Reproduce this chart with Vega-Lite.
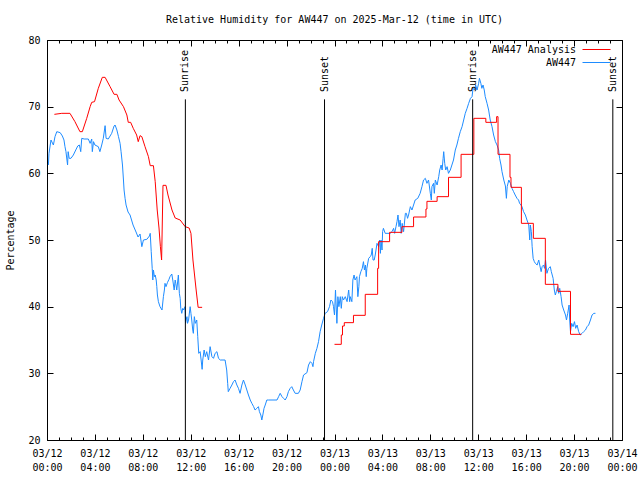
{
 "$schema": "https://vega.github.io/schema/vega-lite/v6.json",
 "width": 575, "height": 400,
 "autosize": {"type": "none"},
 "padding": {"left": 47, "top": 40, "right": 18, "bottom": 40},
 "background": "white",
 "title": {"text": "Relative Humidity for AW447 on 2025-Mar-12 (time in UTC)", "font": "DejaVu Sans Mono", "fontSize": 10, "fontWeight": "normal", "color": "black", "offset": 10, "anchor": "middle"},
 "config": {
  "view": {"stroke": "black", "strokeWidth": 1},
  "axis": {"domain": false, "grid": false, "labelFont": "DejaVu Sans Mono", "labelFontSize": 10, "labelColor": "black", "tickColor": "black", "titleFont": "DejaVu Sans Mono", "titleFontSize": 10, "titleFontWeight": "normal", "titleColor": "black"}
 },
 "datasets": {
  "obs": [
   {"t":"2025-03-12T00:07:00Z","v":61.25},{"t":"2025-03-12T00:10:00Z","v":63},{"t":"2025-03-12T00:20:00Z","v":65},{"t":"2025-03-12T00:32:00Z","v":64.25},{"t":"2025-03-12T00:40:00Z","v":65.5},{"t":"2025-03-12T00:49:00Z","v":66.25},{"t":"2025-03-12T01:06:00Z","v":66.1},{"t":"2025-03-12T01:17:00Z","v":65.6},{"t":"2025-03-12T01:25:00Z","v":65},{"t":"2025-03-12T01:30:00Z","v":64},{"t":"2025-03-12T01:35:00Z","v":63.25},{"t":"2025-03-12T01:40:00Z","v":62},{"t":"2025-03-12T01:43:00Z","v":61.25},{"t":"2025-03-12T01:46:00Z","v":63.25},{"t":"2025-03-12T01:51:00Z","v":62.25},{"t":"2025-03-12T02:00:00Z","v":62.25},{"t":"2025-03-12T02:12:00Z","v":62.75},{"t":"2025-03-12T02:24:00Z","v":63.5},{"t":"2025-03-12T02:34:00Z","v":64.1},{"t":"2025-03-12T02:42:00Z","v":64.25},{"t":"2025-03-12T02:49:00Z","v":63.25},{"t":"2025-03-12T02:54:00Z","v":65.25},{"t":"2025-03-12T03:06:00Z","v":65.15},{"t":"2025-03-12T03:27:00Z","v":65.15},{"t":"2025-03-12T03:36:00Z","v":64.5},{"t":"2025-03-12T03:44:00Z","v":65.15},{"t":"2025-03-12T03:47:00Z","v":63.25},{"t":"2025-03-12T03:53:00Z","v":64.75},{"t":"2025-03-12T04:00:00Z","v":64.25},{"t":"2025-03-12T04:17:00Z","v":64},{"t":"2025-03-12T04:25:00Z","v":63.25},{"t":"2025-03-12T04:34:00Z","v":64.25},{"t":"2025-03-12T04:42:00Z","v":65.25},{"t":"2025-03-12T04:51:00Z","v":67.15},{"t":"2025-03-12T04:56:00Z","v":65.25},{"t":"2025-03-12T05:07:00Z","v":65.15},{"t":"2025-03-12T05:24:00Z","v":66},{"t":"2025-03-12T05:36:00Z","v":67.1},{"t":"2025-03-12T05:41:00Z","v":67.25},{"t":"2025-03-12T05:50:00Z","v":66.5},{"t":"2025-03-12T05:58:00Z","v":65.5},{"t":"2025-03-12T06:06:00Z","v":64.5},{"t":"2025-03-12T06:11:00Z","v":63.25},{"t":"2025-03-12T06:18:00Z","v":61.25},{"t":"2025-03-12T06:23:00Z","v":59},{"t":"2025-03-12T06:26:00Z","v":57.5},{"t":"2025-03-12T06:31:00Z","v":56.25},{"t":"2025-03-12T06:36:00Z","v":55.25},{"t":"2025-03-12T06:46:00Z","v":54.2},{"t":"2025-03-12T06:56:00Z","v":53.75},{"t":"2025-03-12T07:11:00Z","v":52.25},{"t":"2025-03-12T07:26:00Z","v":51.2},{"t":"2025-03-12T07:36:00Z","v":50.45},{"t":"2025-03-12T07:46:00Z","v":50.9},{"t":"2025-03-12T07:55:00Z","v":49},{"t":"2025-03-12T08:03:00Z","v":50},{"t":"2025-03-12T08:20:00Z","v":50.1},{"t":"2025-03-12T08:33:00Z","v":50.6},{"t":"2025-03-12T08:37:00Z","v":51},{"t":"2025-03-12T08:42:00Z","v":48.25},{"t":"2025-03-12T08:47:00Z","v":45.75},{"t":"2025-03-12T08:50:00Z","v":44},{"t":"2025-03-12T08:53:00Z","v":45.5},{"t":"2025-03-12T08:58:00Z","v":44.5},{"t":"2025-03-12T09:02:00Z","v":44.75},{"t":"2025-03-12T09:07:00Z","v":44},{"t":"2025-03-12T09:10:00Z","v":43},{"t":"2025-03-12T09:13:00Z","v":41.75},{"t":"2025-03-12T09:18:00Z","v":40.75},{"t":"2025-03-12T09:26:00Z","v":40},{"t":"2025-03-12T09:36:00Z","v":39.5},{"t":"2025-03-12T09:43:00Z","v":41.5},{"t":"2025-03-12T09:48:00Z","v":42.5},{"t":"2025-03-12T09:51:00Z","v":43.5},{"t":"2025-03-12T09:56:00Z","v":43},{"t":"2025-03-12T10:03:00Z","v":43.6},{"t":"2025-03-12T10:11:00Z","v":44.1},{"t":"2025-03-12T10:16:00Z","v":44.5},{"t":"2025-03-12T10:25:00Z","v":44.9},{"t":"2025-03-12T10:30:00Z","v":44},{"t":"2025-03-12T10:37:00Z","v":42.5},{"t":"2025-03-12T10:42:00Z","v":44},{"t":"2025-03-12T10:45:00Z","v":43.5},{"t":"2025-03-12T10:50:00Z","v":42.5},{"t":"2025-03-12T10:58:00Z","v":44.75},{"t":"2025-03-12T11:03:00Z","v":42},{"t":"2025-03-12T11:07:00Z","v":41.25},{"t":"2025-03-12T11:10:00Z","v":39.75},{"t":"2025-03-12T11:15:00Z","v":39},{"t":"2025-03-12T11:20:00Z","v":39.75},{"t":"2025-03-12T11:25:00Z","v":39.5},{"t":"2025-03-12T11:31:00Z","v":40},{"t":"2025-03-12T11:34:00Z","v":37.5},{"t":"2025-03-12T11:37:00Z","v":38},{"t":"2025-03-12T11:41:00Z","v":38.5},{"t":"2025-03-12T11:44:00Z","v":37.5},{"t":"2025-03-12T11:49:00Z","v":38},{"t":"2025-03-12T11:57:00Z","v":40},{"t":"2025-03-12T12:01:00Z","v":39},{"t":"2025-03-12T12:05:00Z","v":38},{"t":"2025-03-12T12:10:00Z","v":36.5},{"t":"2025-03-12T12:13:00Z","v":36},{"t":"2025-03-12T12:18:00Z","v":38.5},{"t":"2025-03-12T12:23:00Z","v":37.5},{"t":"2025-03-12T12:30:00Z","v":38},{"t":"2025-03-12T12:35:00Z","v":35.5},{"t":"2025-03-12T12:40:00Z","v":33},{"t":"2025-03-12T12:47:00Z","v":33.25},{"t":"2025-03-12T12:52:00Z","v":32},{"t":"2025-03-12T12:57:00Z","v":30.6},{"t":"2025-03-12T13:00:00Z","v":32},{"t":"2025-03-12T13:07:00Z","v":33.5},{"t":"2025-03-12T13:13:00Z","v":32.5},{"t":"2025-03-12T13:20:00Z","v":33.25},{"t":"2025-03-12T13:29:00Z","v":32},{"t":"2025-03-12T13:37:00Z","v":34},{"t":"2025-03-12T13:46:00Z","v":32.5},{"t":"2025-03-12T13:54:00Z","v":32.25},{"t":"2025-03-12T14:02:00Z","v":33},{"t":"2025-03-12T14:11:00Z","v":33.25},{"t":"2025-03-12T14:19:00Z","v":32.25},{"t":"2025-03-12T14:28:00Z","v":32},{"t":"2025-03-12T14:52:00Z","v":32},{"t":"2025-03-12T15:00:00Z","v":30.5},{"t":"2025-03-12T15:05:00Z","v":28.5},{"t":"2025-03-12T15:08:00Z","v":27.25},{"t":"2025-03-12T15:17:00Z","v":27.75},{"t":"2025-03-12T15:26:00Z","v":28.25},{"t":"2025-03-12T15:34:00Z","v":28.75},{"t":"2025-03-12T15:42:00Z","v":29},{"t":"2025-03-12T15:51:00Z","v":28.25},{"t":"2025-03-12T15:59:00Z","v":27.75},{"t":"2025-03-12T16:07:00Z","v":27},{"t":"2025-03-12T16:16:00Z","v":28.25},{"t":"2025-03-12T16:24:00Z","v":29},{"t":"2025-03-12T16:33:00Z","v":28.25},{"t":"2025-03-12T16:41:00Z","v":27.5},{"t":"2025-03-12T16:49:00Z","v":26.75},{"t":"2025-03-12T16:58:00Z","v":26},{"t":"2025-03-12T17:06:00Z","v":25.5},{"t":"2025-03-12T17:15:00Z","v":25},{"t":"2025-03-12T17:22:00Z","v":24.5},{"t":"2025-03-12T17:31:00Z","v":24.75},{"t":"2025-03-12T17:39:00Z","v":25},{"t":"2025-03-12T17:44:00Z","v":24.25},{"t":"2025-03-12T17:51:00Z","v":23.75},{"t":"2025-03-12T17:56:00Z","v":23},{"t":"2025-03-12T18:01:00Z","v":23.75},{"t":"2025-03-12T18:07:00Z","v":24.75},{"t":"2025-03-12T18:13:00Z","v":25.25},{"t":"2025-03-12T18:21:00Z","v":26},{"t":"2025-03-12T18:29:00Z","v":26},{"t":"2025-03-12T19:12:00Z","v":26},{"t":"2025-03-12T19:20:00Z","v":26.5},{"t":"2025-03-12T19:28:00Z","v":27},{"t":"2025-03-12T19:37:00Z","v":26.5},{"t":"2025-03-12T19:45:00Z","v":26.25},{"t":"2025-03-12T19:53:00Z","v":26},{"t":"2025-03-12T20:02:00Z","v":26.5},{"t":"2025-03-12T20:09:00Z","v":27.25},{"t":"2025-03-12T20:18:00Z","v":27.75},{"t":"2025-03-12T20:26:00Z","v":28},{"t":"2025-03-12T20:34:00Z","v":27.5},{"t":"2025-03-12T20:43:00Z","v":27},{"t":"2025-03-12T20:59:00Z","v":27},{"t":"2025-03-12T21:08:00Z","v":27.5},{"t":"2025-03-12T21:17:00Z","v":28.75},{"t":"2025-03-12T21:25:00Z","v":29.75},{"t":"2025-03-12T21:42:00Z","v":30.1},{"t":"2025-03-12T21:50:00Z","v":31.25},{"t":"2025-03-12T21:59:00Z","v":31.75},{"t":"2025-03-12T22:07:00Z","v":31.5},{"t":"2025-03-12T22:12:00Z","v":31},{"t":"2025-03-12T22:15:00Z","v":31.75},{"t":"2025-03-12T22:24:00Z","v":33},{"t":"2025-03-12T22:32:00Z","v":33.75},{"t":"2025-03-12T22:40:00Z","v":34.75},{"t":"2025-03-12T22:48:00Z","v":36.25},{"t":"2025-03-12T22:56:00Z","v":37.25},{"t":"2025-03-12T23:05:00Z","v":38.25},{"t":"2025-03-12T23:13:00Z","v":39},{"t":"2025-03-12T23:25:00Z","v":39.25},{"t":"2025-03-12T23:35:00Z","v":40},{"t":"2025-03-12T23:42:00Z","v":41},{"t":"2025-03-12T23:50:00Z","v":40.75},{"t":"2025-03-12T23:55:00Z","v":40},
   {"t":"2025-03-13T00:00:00Z","v":38.75},{"t":"2025-03-13T00:05:00Z","v":42.5},{"t":"2025-03-13T00:12:00Z","v":37.5},{"t":"2025-03-13T00:17:00Z","v":41.5},{"t":"2025-03-13T00:22:00Z","v":40},{"t":"2025-03-13T00:29:00Z","v":41.5},{"t":"2025-03-13T00:34:00Z","v":39.75},{"t":"2025-03-13T00:39:00Z","v":41.5},{"t":"2025-03-13T00:45:00Z","v":41},{"t":"2025-03-13T00:54:00Z","v":41.5},{"t":"2025-03-13T01:03:00Z","v":40.75},{"t":"2025-03-13T01:11:00Z","v":42.5},{"t":"2025-03-13T01:16:00Z","v":40.75},{"t":"2025-03-13T01:19:00Z","v":41.5},{"t":"2025-03-13T01:27:00Z","v":40.75},{"t":"2025-03-13T01:32:00Z","v":44},{"t":"2025-03-13T01:38:00Z","v":44.75},{"t":"2025-03-13T01:43:00Z","v":44},{"t":"2025-03-13T01:52:00Z","v":44.5},{"t":"2025-03-13T01:57:00Z","v":41.5},{"t":"2025-03-13T02:02:00Z","v":43},{"t":"2025-03-13T02:05:00Z","v":44.5},{"t":"2025-03-13T02:12:00Z","v":45.25},{"t":"2025-03-13T02:19:00Z","v":45.75},{"t":"2025-03-13T02:25:00Z","v":46.75},{"t":"2025-03-13T02:30:00Z","v":45.5},{"t":"2025-03-13T02:35:00Z","v":46.25},{"t":"2025-03-13T02:39:00Z","v":44.5},{"t":"2025-03-13T02:42:00Z","v":45.75},{"t":"2025-03-13T02:51:00Z","v":47.25},{"t":"2025-03-13T02:59:00Z","v":47.5},{"t":"2025-03-13T03:04:00Z","v":47.75},{"t":"2025-03-13T03:09:00Z","v":48.75},{"t":"2025-03-13T03:13:00Z","v":47},{"t":"2025-03-13T03:19:00Z","v":47},{"t":"2025-03-13T03:24:00Z","v":47.75},{"t":"2025-03-13T03:33:00Z","v":49.5},{"t":"2025-03-13T03:41:00Z","v":49},{"t":"2025-03-13T03:46:00Z","v":50},{"t":"2025-03-13T03:50:00Z","v":48},{"t":"2025-03-13T03:53:00Z","v":50},{"t":"2025-03-13T03:58:00Z","v":48.5},{"t":"2025-03-13T04:01:00Z","v":51.25},{"t":"2025-03-13T04:05:00Z","v":51.75},{"t":"2025-03-13T04:14:00Z","v":51},{"t":"2025-03-13T04:39:00Z","v":51},{"t":"2025-03-13T04:48:00Z","v":51.25},{"t":"2025-03-13T04:56:00Z","v":51.75},{"t":"2025-03-13T05:01:00Z","v":51},{"t":"2025-03-13T05:08:00Z","v":52},{"t":"2025-03-13T05:13:00Z","v":52.75},{"t":"2025-03-13T05:18:00Z","v":53.75},{"t":"2025-03-13T05:23:00Z","v":52},{"t":"2025-03-13T05:29:00Z","v":53},{"t":"2025-03-13T05:34:00Z","v":51},{"t":"2025-03-13T05:39:00Z","v":52.5},{"t":"2025-03-13T05:46:00Z","v":51.25},{"t":"2025-03-13T05:55:00Z","v":54},{"t":"2025-03-13T06:00:00Z","v":54},{"t":"2025-03-13T06:06:00Z","v":53.25},{"t":"2025-03-13T06:11:00Z","v":53.75},{"t":"2025-03-13T06:20:00Z","v":55},{"t":"2025-03-13T06:28:00Z","v":54.5},{"t":"2025-03-13T06:36:00Z","v":55.25},{"t":"2025-03-13T06:44:00Z","v":56},{"t":"2025-03-13T06:57:00Z","v":56.25},{"t":"2025-03-13T07:09:00Z","v":57},{"t":"2025-03-13T07:18:00Z","v":58},{"t":"2025-03-13T07:26:00Z","v":59},{"t":"2025-03-13T07:35:00Z","v":59.25},{"t":"2025-03-13T07:43:00Z","v":58.5},{"t":"2025-03-13T07:51:00Z","v":59},{"t":"2025-03-13T08:00:00Z","v":57},{"t":"2025-03-13T08:05:00Z","v":56},{"t":"2025-03-13T08:08:00Z","v":58},{"t":"2025-03-13T08:16:00Z","v":58.5},{"t":"2025-03-13T08:20:00Z","v":57},{"t":"2025-03-13T08:25:00Z","v":59},{"t":"2025-03-13T08:34:00Z","v":58.25},{"t":"2025-03-13T08:42:00Z","v":59.5},{"t":"2025-03-13T08:47:00Z","v":60.5},{"t":"2025-03-13T08:54:00Z","v":61.25},{"t":"2025-03-13T08:59:00Z","v":60.5},{"t":"2025-03-13T09:04:00Z","v":62.25},{"t":"2025-03-13T09:07:00Z","v":63.25},{"t":"2025-03-13T09:12:00Z","v":61.5},{"t":"2025-03-13T09:17:00Z","v":60.5},{"t":"2025-03-13T09:24:00Z","v":61},{"t":"2025-03-13T09:31:00Z","v":60},{"t":"2025-03-13T09:40:00Z","v":60.5},{"t":"2025-03-13T09:48:00Z","v":61.25},{"t":"2025-03-13T09:56:00Z","v":62},{"t":"2025-03-13T10:05:00Z","v":63.5},{"t":"2025-03-13T10:13:00Z","v":64.25},{"t":"2025-03-13T10:21:00Z","v":65.25},{"t":"2025-03-13T10:30:00Z","v":66.25},{"t":"2025-03-13T10:39:00Z","v":67},{"t":"2025-03-13T10:47:00Z","v":68},{"t":"2025-03-13T10:55:00Z","v":69},{"t":"2025-03-13T11:04:00Z","v":69.75},{"t":"2025-03-13T11:12:00Z","v":70.5},{"t":"2025-03-13T11:21:00Z","v":71.25},{"t":"2025-03-13T11:29:00Z","v":71.5},{"t":"2025-03-13T11:34:00Z","v":72.75},{"t":"2025-03-13T11:41:00Z","v":72.5},{"t":"2025-03-13T11:47:00Z","v":73.25},{"t":"2025-03-13T11:54:00Z","v":72.5},{"t":"2025-03-13T12:02:00Z","v":73.5},{"t":"2025-03-13T12:06:00Z","v":74.25},{"t":"2025-03-13T12:13:00Z","v":73.5},{"t":"2025-03-13T12:18:00Z","v":72.75},{"t":"2025-03-13T12:24:00Z","v":73.25},{"t":"2025-03-13T12:30:00Z","v":72.5},{"t":"2025-03-13T12:35:00Z","v":71.5},{"t":"2025-03-13T12:44:00Z","v":70.5},{"t":"2025-03-13T12:52:00Z","v":69.5},{"t":"2025-03-13T13:00:00Z","v":68},{"t":"2025-03-13T13:09:00Z","v":67},{"t":"2025-03-13T13:17:00Z","v":65.75},{"t":"2025-03-13T13:26:00Z","v":64.75},{"t":"2025-03-13T13:34:00Z","v":64.25},{"t":"2025-03-13T13:42:00Z","v":63.5},{"t":"2025-03-13T13:47:00Z","v":62.25},{"t":"2025-03-13T13:54:00Z","v":61.25},{"t":"2025-03-13T13:59:00Z","v":60.25},{"t":"2025-03-13T14:08:00Z","v":59},{"t":"2025-03-13T14:16:00Z","v":58.1},{"t":"2025-03-13T14:21:00Z","v":56.25},{"t":"2025-03-13T14:25:00Z","v":58},{"t":"2025-03-13T14:33:00Z","v":59},{"t":"2025-03-13T14:41:00Z","v":58.5},{"t":"2025-03-13T14:49:00Z","v":57.75},{"t":"2025-03-13T14:57:00Z","v":57.25},{"t":"2025-03-13T15:05:00Z","v":56.75},{"t":"2025-03-13T15:14:00Z","v":56.25},{"t":"2025-03-13T15:22:00Z","v":56},{"t":"2025-03-13T15:27:00Z","v":55.5},{"t":"2025-03-13T15:34:00Z","v":55.25},{"t":"2025-03-13T15:39:00Z","v":55},{"t":"2025-03-13T15:47:00Z","v":54.25},{"t":"2025-03-13T15:56:00Z","v":53.75},{"t":"2025-03-13T16:04:00Z","v":53},{"t":"2025-03-13T16:13:00Z","v":52.25},{"t":"2025-03-13T16:18:00Z","v":50},{"t":"2025-03-13T16:21:00Z","v":52.25},{"t":"2025-03-13T16:26:00Z","v":51.25},{"t":"2025-03-13T16:30:00Z","v":49},{"t":"2025-03-13T16:35:00Z","v":47.25},{"t":"2025-03-13T16:41:00Z","v":46.75},{"t":"2025-03-13T16:46:00Z","v":46.5},{"t":"2025-03-13T16:55:00Z","v":46.25},{"t":"2025-03-13T17:03:00Z","v":47},{"t":"2025-03-13T17:08:00Z","v":46.25},{"t":"2025-03-13T17:15:00Z","v":45.25},{"t":"2025-03-13T17:20:00Z","v":46},{"t":"2025-03-13T17:27:00Z","v":46.25},{"t":"2025-03-13T17:32:00Z","v":45.75},{"t":"2025-03-13T17:37:00Z","v":47},{"t":"2025-03-13T17:44:00Z","v":45},{"t":"2025-03-13T17:52:00Z","v":45.75},{"t":"2025-03-13T18:01:00Z","v":46},{"t":"2025-03-13T18:06:00Z","v":45.25},{"t":"2025-03-13T18:15:00Z","v":44.25},{"t":"2025-03-13T18:21:00Z","v":42.5},{"t":"2025-03-13T18:26:00Z","v":41.75},{"t":"2025-03-13T18:31:00Z","v":42.25},{"t":"2025-03-13T18:38:00Z","v":43},{"t":"2025-03-13T18:43:00Z","v":42},{"t":"2025-03-13T18:48:00Z","v":42.75},{"t":"2025-03-13T18:55:00Z","v":41.5},{"t":"2025-03-13T19:00:00Z","v":40.25},{"t":"2025-03-13T19:08:00Z","v":39.5},{"t":"2025-03-13T19:17:00Z","v":38.75},{"t":"2025-03-13T19:22:00Z","v":38},{"t":"2025-03-13T19:28:00Z","v":39},{"t":"2025-03-13T19:35:00Z","v":40.25},{"t":"2025-03-13T19:38:00Z","v":38},{"t":"2025-03-13T19:42:00Z","v":36.25},{"t":"2025-03-13T19:48:00Z","v":37.5},{"t":"2025-03-13T19:55:00Z","v":37},{"t":"2025-03-13T20:02:00Z","v":37.75},{"t":"2025-03-13T20:08:00Z","v":36.75},{"t":"2025-03-13T20:15:00Z","v":37.25},{"t":"2025-03-13T20:23:00Z","v":36.25},{"t":"2025-03-13T20:31:00Z","v":35.75},{"t":"2025-03-13T20:40:00Z","v":36},{"t":"2025-03-13T20:48:00Z","v":36.25},{"t":"2025-03-13T20:57:00Z","v":36.5},{"t":"2025-03-13T21:05:00Z","v":37},{"t":"2025-03-13T21:13:00Z","v":37.25},{"t":"2025-03-13T21:22:00Z","v":38},{"t":"2025-03-13T21:30:00Z","v":38.75},{"t":"2025-03-13T21:39:00Z","v":39},{"t":"2025-03-13T21:47:00Z","v":39}
  ],
  "ana1": [
   {"t":"2025-03-12T00:37:00Z","v":68.85},{"t":"2025-03-12T01:14:00Z","v":69},{"t":"2025-03-12T01:55:00Z","v":69},{"t":"2025-03-12T02:20:00Z","v":67.75},{"t":"2025-03-12T02:45:00Z","v":66.25},{"t":"2025-03-12T02:57:00Z","v":66.25},{"t":"2025-03-12T03:19:00Z","v":68.25},{"t":"2025-03-12T03:36:00Z","v":70},{"t":"2025-03-12T03:44:00Z","v":70.65},{"t":"2025-03-12T03:58:00Z","v":70.75},{"t":"2025-03-12T04:17:00Z","v":72.75},{"t":"2025-03-12T04:37:00Z","v":74.4},{"t":"2025-03-12T04:51:00Z","v":74.4},{"t":"2025-03-12T05:16:00Z","v":73},{"t":"2025-03-12T05:36:00Z","v":71.85},{"t":"2025-03-12T05:50:00Z","v":71.85},{"t":"2025-03-12T06:01:00Z","v":71},{"t":"2025-03-12T06:23:00Z","v":70},{"t":"2025-03-12T06:40:00Z","v":68.75},{"t":"2025-03-12T06:47:00Z","v":67.65},{"t":"2025-03-12T06:59:00Z","v":67.65},{"t":"2025-03-12T07:12:00Z","v":66.75},{"t":"2025-03-12T07:29:00Z","v":65.75},{"t":"2025-03-12T07:37:00Z","v":64.75},{"t":"2025-03-12T07:46:00Z","v":65.65},{"t":"2025-03-12T07:55:00Z","v":65.5},{"t":"2025-03-12T08:11:00Z","v":64},{"t":"2025-03-12T08:28:00Z","v":62.5},{"t":"2025-03-12T08:37:00Z","v":61.15},{"t":"2025-03-12T08:53:00Z","v":61.15},{"t":"2025-03-12T09:02:00Z","v":58.75},{"t":"2025-03-12T09:12:00Z","v":54.5},{"t":"2025-03-12T09:21:00Z","v":51.8},{"t":"2025-03-12T09:28:00Z","v":49},{"t":"2025-03-12T09:34:00Z","v":47},{"t":"2025-03-12T09:41:00Z","v":58.2},{"t":"2025-03-12T09:56:00Z","v":58.2},{"t":"2025-03-12T10:06:00Z","v":56.75},{"t":"2025-03-12T10:26:00Z","v":54.5},{"t":"2025-03-12T10:42:00Z","v":53.3},{"t":"2025-03-12T11:07:00Z","v":53},{"t":"2025-03-12T11:32:00Z","v":52},{"t":"2025-03-12T11:52:00Z","v":51.8},{"t":"2025-03-12T12:01:00Z","v":51},{"t":"2025-03-12T12:11:00Z","v":47},{"t":"2025-03-12T12:27:00Z","v":42.5},{"t":"2025-03-12T12:37:00Z","v":39.9},{"t":"2025-03-12T12:57:00Z","v":39.9}
  ],
  "ana2": [
   {"t":"2025-03-13T00:00:00Z","v":34.35},{"t":"2025-03-13T00:34:00Z","v":35.75},{"t":"2025-03-13T00:40:00Z","v":37.1},{"t":"2025-03-13T00:49:00Z","v":37.6},{"t":"2025-03-13T01:35:00Z","v":38.7},{"t":"2025-03-13T02:34:00Z","v":41.85},{"t":"2025-03-13T03:36:00Z","v":45.75},{"t":"2025-03-13T03:41:00Z","v":49.75},{"t":"2025-03-13T04:36:00Z","v":51.15},{"t":"2025-03-13T05:38:00Z","v":52},{"t":"2025-03-13T06:36:00Z","v":53.45},{"t":"2025-03-13T07:38:00Z","v":54.65},{"t":"2025-03-13T07:43:00Z","v":55.8},{"t":"2025-03-13T08:34:00Z","v":56.5},{"t":"2025-03-13T09:31:00Z","v":59.4},{"t":"2025-03-13T10:34:00Z","v":62.85},{"t":"2025-03-13T11:38:00Z","v":68.25},{"t":"2025-03-13T12:38:00Z","v":67.65},{"t":"2025-03-13T13:32:00Z","v":68.5},{"t":"2025-03-13T13:39:00Z","v":62.85},{"t":"2025-03-13T14:39:00Z","v":59.4},{"t":"2025-03-13T14:44:00Z","v":57.9},{"t":"2025-03-13T15:36:00Z","v":52.5},{"t":"2025-03-13T16:36:00Z","v":50.25},{"t":"2025-03-13T17:36:00Z","v":43.35},{"t":"2025-03-13T18:39:00Z","v":42.3},{"t":"2025-03-13T19:42:00Z","v":35.85},{"t":"2025-03-13T20:36:00Z","v":35.85}
  ],
  "sun": [
   {"t":"2025-03-12T11:33:00Z","label":"Sunrise"},{"t":"2025-03-12T23:10:00Z","label":"Sunset"},{"t":"2025-03-13T11:32:00Z","label":"Sunrise"},{"t":"2025-03-13T23:14:00Z","label":"Sunset"}
  ]
 },
 "layer": [
  {
   "data": {"name": "obs"},
   "mark": {"type": "line", "strokeWidth": 1, "clip": true},
   "encoding": {
    "x": {"field": "t", "type": "temporal", "scale": {"type": "utc", "nice": false, "domain": [{"year": 2025, "month": 3, "date": 12, "utc": true}, {"year": 2025, "month": 3, "date": 14, "utc": true}]},
          "axis": {"orient": "bottom", "title": null, "tickSize": -6, "labelPadding": 14, "labelLineHeight": 14,
                   "values": [{"year":2025,"month":3,"date":12,"hours":0,"utc":true},{"year":2025,"month":3,"date":12,"hours":4,"utc":true},{"year":2025,"month":3,"date":12,"hours":8,"utc":true},{"year":2025,"month":3,"date":12,"hours":12,"utc":true},{"year":2025,"month":3,"date":12,"hours":16,"utc":true},{"year":2025,"month":3,"date":12,"hours":20,"utc":true},{"year":2025,"month":3,"date":13,"hours":0,"utc":true},{"year":2025,"month":3,"date":13,"hours":4,"utc":true},{"year":2025,"month":3,"date":13,"hours":8,"utc":true},{"year":2025,"month":3,"date":13,"hours":12,"utc":true},{"year":2025,"month":3,"date":13,"hours":16,"utc":true},{"year":2025,"month":3,"date":13,"hours":20,"utc":true},{"year":2025,"month":3,"date":14,"hours":0,"utc":true}],
                   "labelExpr": "[utcFormat(datum.value, '%m/%d'), utcFormat(datum.value, '%H:%M')]", "labelFlush": false, "labelOverlap": false}},
    "y": {"field": "v", "type": "quantitative", "scale": {"domain": [20, 80], "nice": false, "zero": false},
          "axis": {"orient": "left", "values": [20, 30, 40, 50, 60, 70, 80], "tickSize": -6, "labelPadding": 13, "title": "Percentage", "titlePadding": 12}},
    "color": {"datum": "AW447", "scale": {"domain": ["AW447 Analysis", "AW447"], "range": ["#ff0000", "#1e8cff"]},
              "legend": {"orient": "none", "legendX": 542, "legendY": 2, "title": null, "symbolType": "M-2,0H2", "symbolSize": 196, "symbolStrokeWidth": 1, "symbolFillColor": "transparent", "labelAlign": "right", "labelOffset": -28, "labelFont": "DejaVu Sans Mono", "labelFontSize": 10, "labelColor": "black", "padding": 0, "rowPadding": -1}}
   }
  },
  {
   "data": {"name": "ana1"},
   "mark": {"type": "line", "strokeWidth": 1, "clip": true},
   "encoding": {
    "x": {"field": "t", "type": "temporal", "axis": {"orient": "top", "title": null, "labels": false, "tickSize": -6,
          "values": [{"year":2025,"month":3,"date":12,"hours":0,"utc":true},{"year":2025,"month":3,"date":12,"hours":4,"utc":true},{"year":2025,"month":3,"date":12,"hours":8,"utc":true},{"year":2025,"month":3,"date":12,"hours":12,"utc":true},{"year":2025,"month":3,"date":12,"hours":16,"utc":true},{"year":2025,"month":3,"date":12,"hours":20,"utc":true},{"year":2025,"month":3,"date":13,"hours":0,"utc":true},{"year":2025,"month":3,"date":13,"hours":4,"utc":true},{"year":2025,"month":3,"date":13,"hours":8,"utc":true},{"year":2025,"month":3,"date":13,"hours":12,"utc":true},{"year":2025,"month":3,"date":13,"hours":16,"utc":true},{"year":2025,"month":3,"date":13,"hours":20,"utc":true},{"year":2025,"month":3,"date":14,"hours":0,"utc":true}]}},
    "y": {"field": "v", "type": "quantitative", "axis": {"orient": "right", "title": null, "labels": false, "values": [20, 30, 40, 50, 60, 70, 80], "tickSize": -6}},
    "color": {"datum": "AW447 Analysis"}
   }
  },
  {
   "data": {"name": "ana2"},
   "mark": {"type": "line", "strokeWidth": 1, "interpolate": "step-after", "clip": true},
   "encoding": {
    "x": {"field": "t", "type": "temporal", "axis": {"orient": "bottom", "title": null, "labels": false, "tickCount": 48, "tickSize": -3}},
    "y": {"field": "v", "type": "quantitative", "axis": null},
    "color": {"datum": "AW447 Analysis"}
   }
  },
  {
   "data": {"name": "sun"},
   "mark": {"type": "rule", "color": "black", "strokeWidth": 1},
   "encoding": {
    "x": {"field": "t", "type": "temporal", "axis": {"orient": "top", "title": null, "labels": false, "tickCount": 48, "tickSize": -3}},
    "y": {"datum": 20, "type": "quantitative", "axis": null},
    "y2": {"datum": 71.1}
   }
  },
  {
   "data": {"name": "sun"},
   "mark": {"type": "text", "angle": 270, "align": "left", "baseline": "middle", "font": "DejaVu Sans Mono", "fontSize": 10, "color": "black"},
   "encoding": {
    "x": {"field": "t", "type": "temporal", "axis": null},
    "y": {"datum": 72.2, "type": "quantitative", "axis": null},
    "text": {"field": "label"}
   }
  }
 ],
 "resolve": {"axis": {"x": "independent", "y": "independent"}}
}
